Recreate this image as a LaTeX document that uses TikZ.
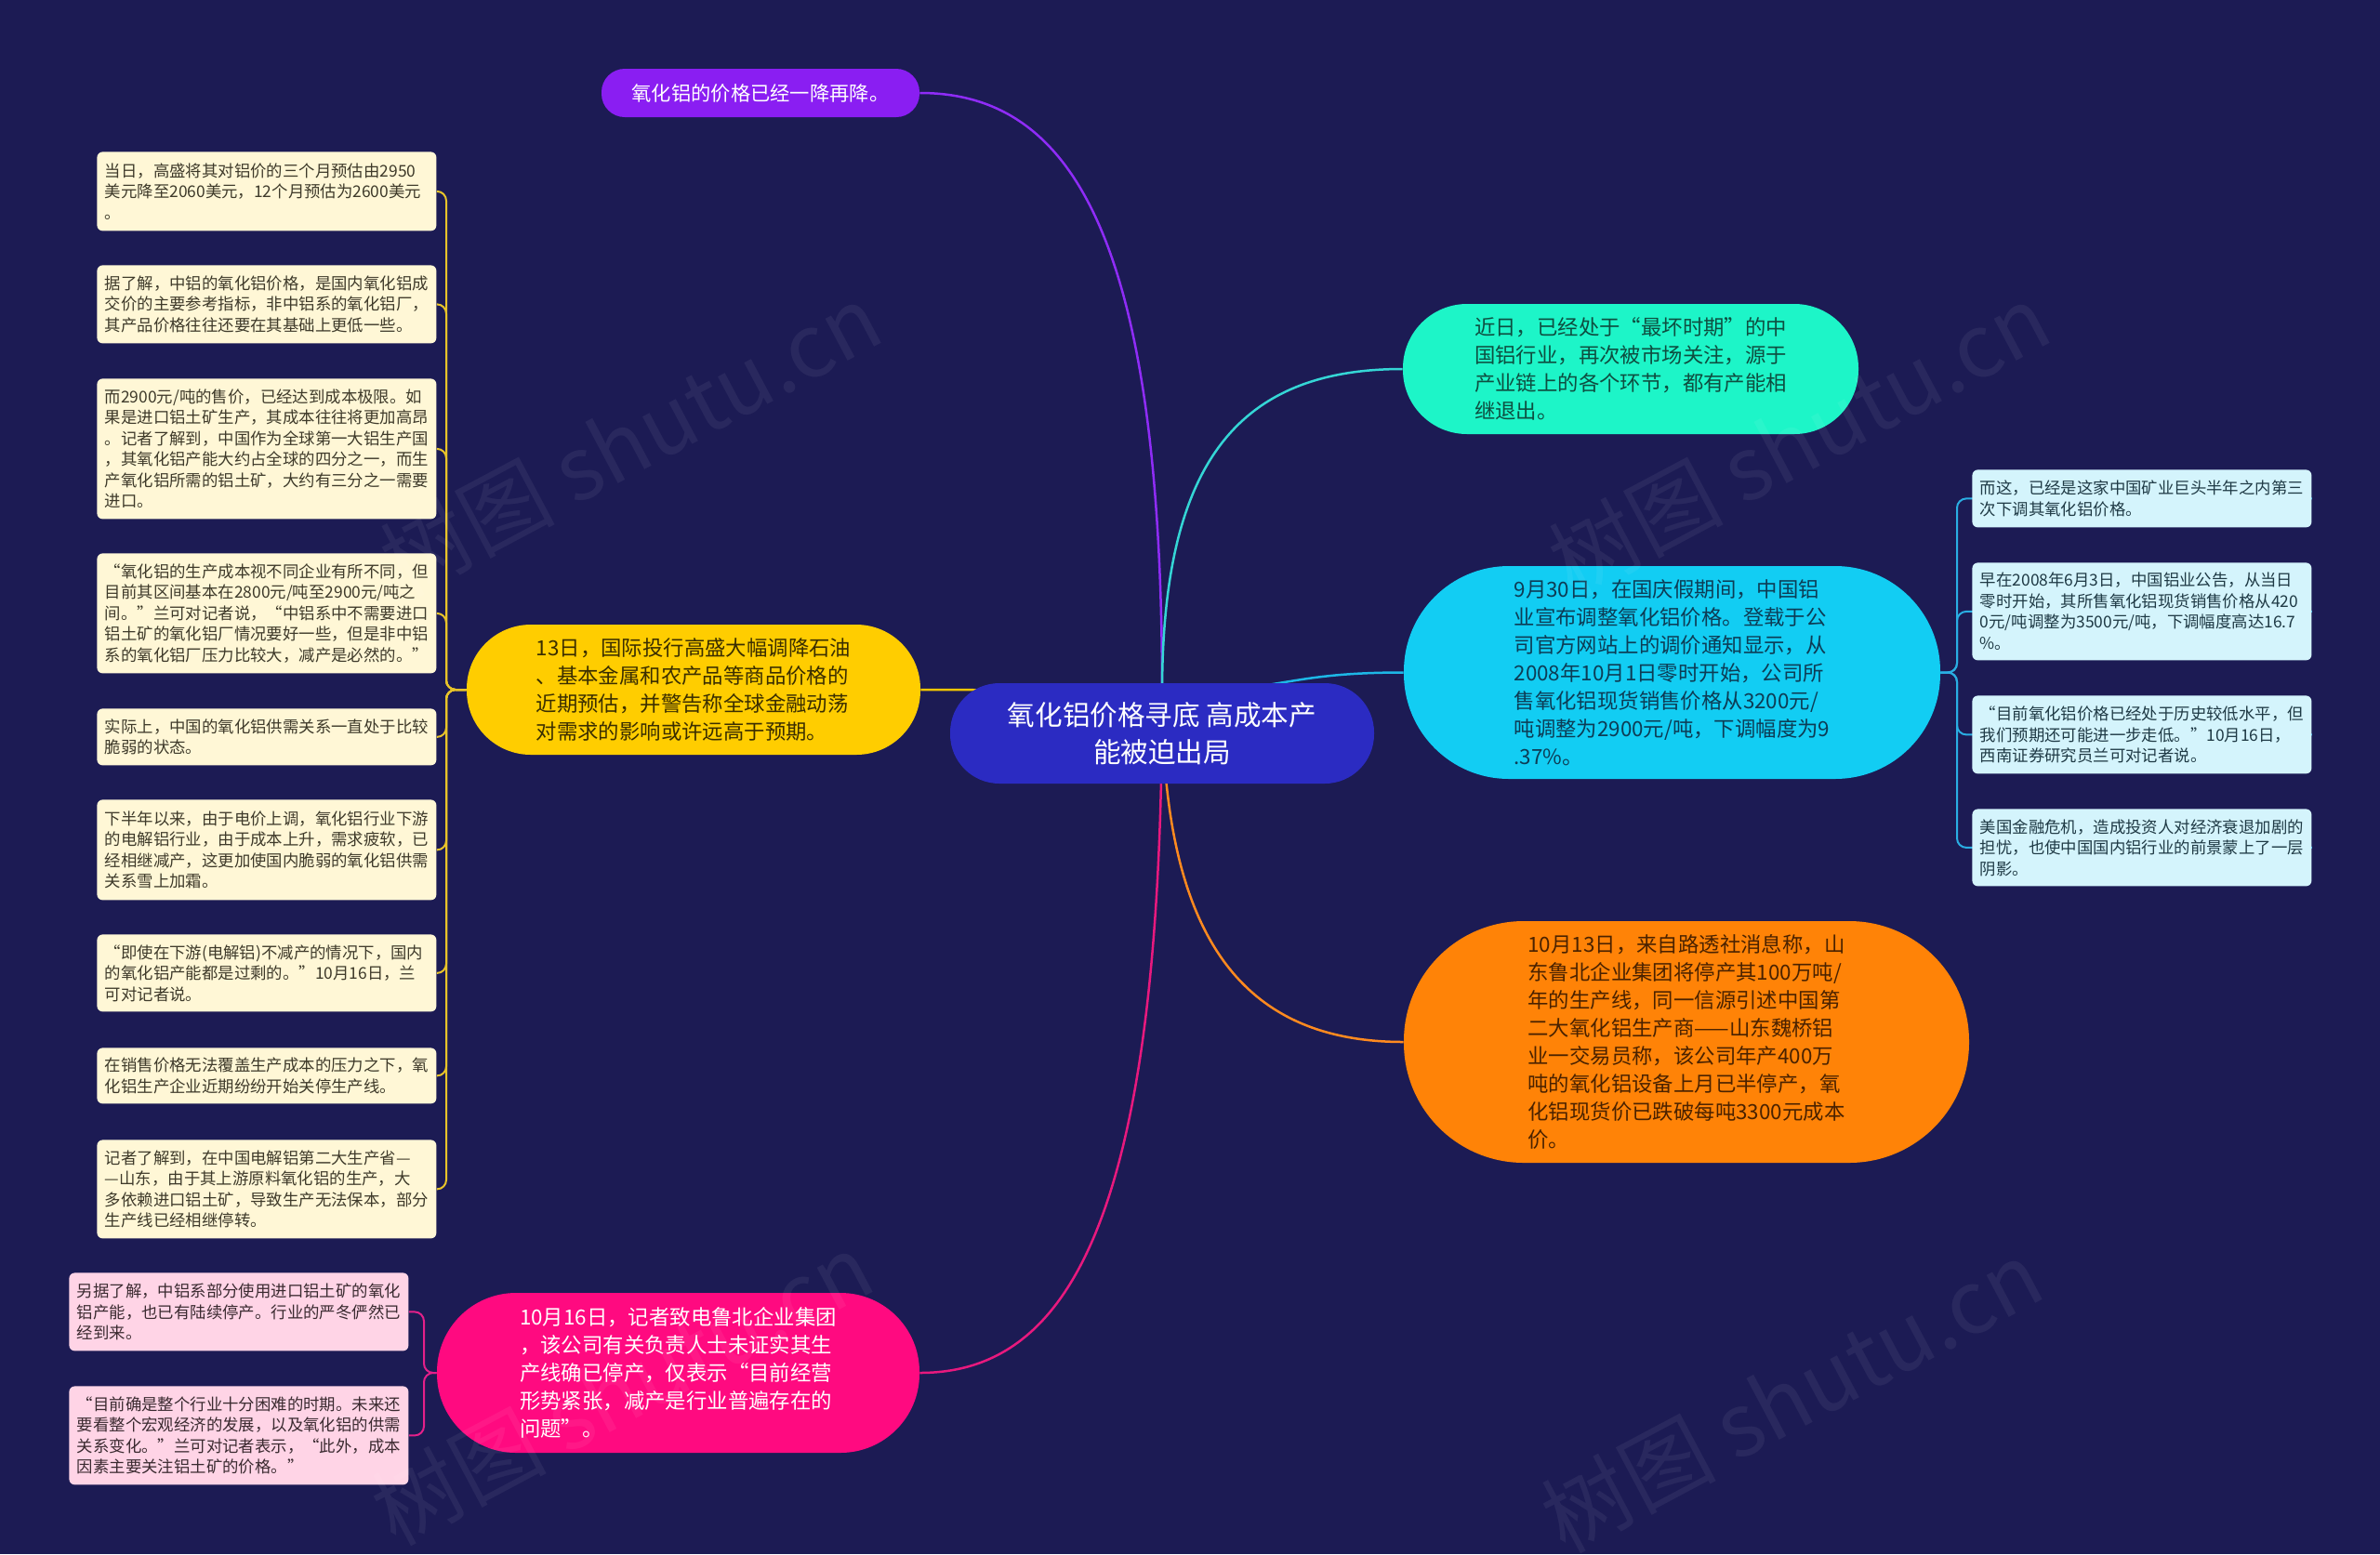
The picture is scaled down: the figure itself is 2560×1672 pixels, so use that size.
\documentclass[tikz,border=0pt]{standalone}
\usepackage{fontspec}
\setmainfont{Noto Sans CJK SC}
\definecolor{bgc}{HTML}{1C1B54}
\definecolor{rootc}{HTML}{2B2BC2}
\definecolor{purc}{HTML}{8A1EF2}
\definecolor{cyc}{HTML}{1DF5C8}
\definecolor{blc}{HTML}{12CDF3}
\definecolor{orc}{HTML}{FF8307}
\definecolor{yec}{HTML}{FFCD00}
\definecolor{pkc}{HTML}{FF0A80}
\definecolor{creamc}{HTML}{FFF7D6}
\definecolor{lcyc}{HTML}{D4F4FC}
\definecolor{lpkc}{HTML}{FFD4E6}
\definecolor{lpur}{HTML}{8F2CF7}
\definecolor{lcy}{HTML}{35D6D6}
\definecolor{lbl}{HTML}{1DB7E6}
\definecolor{lor}{HTML}{FF8A1F}
\definecolor{lpk}{HTML}{E8197E}
\definecolor{lye}{HTML}{F2C600}
\definecolor{bye}{HTML}{E8C42A}
\definecolor{bcy}{HTML}{2AAEE3}
\definecolor{bpk}{HTML}{E4208A}
\definecolor{tye}{HTML}{3A2E00}
\definecolor{tcy}{HTML}{0E4E40}
\definecolor{tbl}{HTML}{0D3C55}
\definecolor{tor}{HTML}{4A2200}
\definecolor{tcream}{HTML}{3E3A2A}
\definecolor{tlcy}{HTML}{1F3A45}
\definecolor{tlpk}{HTML}{3A2A30}
\pgfdeclarelayer{back}
\pgfdeclarelayer{edges}
\pgfsetlayers{back,edges,main}
\tikzset{
  sbox/.style={rectangle, rounded corners=3pt, anchor=north west, inner xsep=4.25pt, inner ysep=0pt,
    text width=174pt, align=left, font=\fontsize{8.7}{11.25}\selectfont},
  ybox/.style={sbox, fill=creamc, text=tcream},
  cbox/.style={sbox, fill=lcyc, text=tlcy},
  pbox/.style={sbox, fill=lpkc, text=tlpk},
  pill/.style={rectangle, inner sep=0pt, align=left, font=\fontsize{11.2}{15}\selectfont},
  edge/.style={line width=1.25pt},
  brk/.style={line width=1pt, rounded corners=5pt},
  wm/.style={rotate=28, text=white, opacity=0.06, font=\fontsize{47}{50}\selectfont}
}
\begin{document}
\begin{tikzpicture}[x=0.5pt,y=-0.5pt]
\useasboundingbox (0,0) rectangle (2560,1672);
\begin{pgfonlayer}{back}
\fill[bgc] (0,0) rectangle (2560,1672);
\end{pgfonlayer}

% main nodes
\node[pill, fill=rootc, text=white, minimum width=228pt, minimum height=54pt, rounded corners=26.5pt,
  align=center, font=\fontsize{14.8}{20}\selectfont] (root) at (1250,789) {氧化铝价格寻底 高成本产\\能被迫出局};
\node[pill, fill=purc, text=white, minimum width=171pt, minimum height=26pt, rounded corners=12.5pt,
  font=\fontsize{10.65}{13}\selectfont] (pu) at (818,100) {氧化铝的价格已经一降再降。};
\node[pill, fill=yec, text=tye, minimum width=244pt, minimum height=70pt, rounded corners=34.5pt] (ye) at (746,742)
 {13日，国际投行高盛大幅调降石油\\、基本金属和农产品等商品价格的\\近期预估，并警告称全球金融动荡\\对需求的影响或许远高于预期。};
\node[pill, fill=cyc, text=tcy, minimum width=245pt, minimum height=70pt, rounded corners=34.5pt] (cy) at (1754,397)
 {近日，已经处于“最坏时期”的中\\国铝行业，再次被市场关注，源于\\产业链上的各个环节，都有产能相\\继退出。};
\node[pill, fill=blc, text=tbl, minimum width=288.5pt, minimum height=114.5pt, rounded corners=56.5pt] (bl) at (1798.5,723.5)
 {9月30日，在国庆假期间，中国铝\\业宣布调整氧化铝价格。登载于公\\司官方网站上的调价通知显示，从\\2008年10月1日零时开始，公司所\\售氧化铝现货销售价格从3200元/\\吨调整为2900元/吨，下调幅度为9\\.37\%。};
\node[pill, fill=orc, text=tor, minimum width=304pt, minimum height=130pt, rounded corners=64.5pt] (or) at (1814,1121)
 {10月13日，来自路透社消息称，山\\东鲁北企业集团将停产其100万吨/\\年的生产线，同一信源引述中国第\\二大氧化铝生产商——山东魏桥铝\\业一交易员称，该公司年产400万\\吨的氧化铝设备上月已半停产，氧\\化铝现货价已跌破每吨3300元成本\\价。};
\node[pill, fill=pkc, text=white, minimum width=259.5pt, minimum height=86pt, rounded corners=42.5pt] (pk) at (729.5,1477)
 {10月16日，记者致电鲁北企业集团\\，该公司有关负责人士未证实其生\\产线确已停产，仅表示“目前经营\\形势紧张，减产是行业普遍存在的\\问题”。};

% left cream boxes
\node[ybox, minimum height=42.5pt] (B1) at (104,163) {当日，高盛将其对铝价的三个月预估由2950\\美元降至2060美元，12个月预估为2600美元\\。};
\node[ybox, minimum height=42pt] (B2) at (104,285) {据了解，中铝的氧化铝价格，是国内氧化铝成\\交价的主要参考指标，非中铝系的氧化铝厂，\\其产品价格往往还要在其基础上更低一些。};
\node[ybox, minimum height=75.5pt] (B3) at (104,407) {而2900元/吨的售价，已经达到成本极限。如\\果是进口铝土矿生产，其成本往往将更加高昂\\。记者了解到，中国作为全球第一大铝生产国\\，其氧化铝产能大约占全球的四分之一，而生\\产氧化铝所需的铝土矿，大约有三分之一需要\\进口。};
\node[ybox, minimum height=64.5pt] (B4) at (104,595) {“氧化铝的生产成本视不同企业有所不同，但\\目前其区间基本在2800元/吨至2900元/吨之\\间。”兰可对记者说，“中铝系中不需要进口\\铝土矿的氧化铝厂情况要好一些，但是非中铝\\系的氧化铝厂压力比较大，减产是必然的。”};
\node[ybox, minimum height=30.5pt] (B5) at (104,762) {实际上，中国的氧化铝供需关系一直处于比较\\脆弱的状态。};
\node[ybox, minimum height=54pt] (B6) at (104,860) {下半年以来，由于电价上调，氧化铝行业下游\\的电解铝行业，由于成本上升，需求疲软，已\\经相继减产，这更加使国内脆弱的氧化铝供需\\关系雪上加霜。};
\node[ybox, minimum height=41.5pt] (B7) at (104,1005) {“即使在下游(电解铝)不减产的情况下，国内\\的氧化铝产能都是过剩的。”10月16日，兰\\可对记者说。};
\node[ybox, minimum height=30pt] (B8) at (104,1127) {在销售价格无法覆盖生产成本的压力之下，氧\\化铝生产企业近期纷纷开始关停生产线。};
\node[ybox, minimum height=53pt] (B9) at (104,1226) {记者了解到，在中国电解铝第二大生产省—\\—山东，由于其上游原料氧化铝的生产，大\\多依赖进口铝土矿，导致生产无法保本，部分\\生产线已经相继停转。};

% right light cyan boxes
\node[cbox, minimum height=31pt] (R1) at (2121,505) {而这，已经是这家中国矿业巨头半年之内第三\\次下调其氧化铝价格。};
\node[cbox, minimum height=52.5pt] (R2) at (2121,605) {早在2008年6月3日，中国铝业公告，从当日\\零时开始，其所售氧化铝现货销售价格从420\\0元/吨调整为3500元/吨，下调幅度高达16.7\\\%。};
\node[cbox, minimum height=42pt] (R3) at (2121,748) {“目前氧化铝价格已经处于历史较低水平，但\\我们预期还可能进一步走低。”10月16日，\\西南证券研究员兰可对记者说。};
\node[cbox, minimum height=41.5pt] (R4) at (2121,870) {美国金融危机，造成投资人对经济衰退加剧的\\担忧，也使中国国内铝行业的前景蒙上了一层\\阴影。};

% left pink boxes
\node[pbox, minimum height=42pt] (P1) at (74,1369) {另据了解，中铝系部分使用进口铝土矿的氧化\\铝产能，也已有陆续停产。行业的严冬俨然已\\经到来。};
\node[pbox, minimum height=53pt] (P2) at (74,1491) {“目前确是整个行业十分困难的时期。未来还\\要看整个宏观经济的发展，以及氧化铝的供需\\关系变化。”兰可对记者表示，“此外，成本\\因素主要关注铝土矿的价格。”};

% connectors
\begin{pgfonlayer}{edges}
\coordinate (O) at (1250,745);
\draw[edge, lpur] (O) .. controls (1250,250) and (1150,100) .. (pu.east);
\draw[edge, lcy] (O) .. controls (1250,500) and (1330,397) .. (cy.west);
\draw[edge, lbl] (O) .. controls (1380,745) and (1380,723.5) .. (bl.west);
\draw[edge, lor] (O) .. controls (1250,1000) and (1330,1121) .. (or.west);
\draw[edge, lpk] (O) .. controls (1250,1310) and (1150,1477) .. (pk.east);
\draw[edge, lye] (O) .. controls (1120,745) and (1120,742) .. (ye.east);
\foreach \b in {B1,B2,B3,B4,B5,B6,B7,B8,B9}
  \draw[brk, bye] (ye.west) -- (480,742) |- (\b.east);
\foreach \b in {R1,R2,R3,R4}
  \draw[brk, bcy] (bl.east) -- (2105,723.5) |- (\b.east);
\foreach \b in {P1,P2}
  \draw[brk, bpk] (pk.west) -- (456,1477) |- (\b.east);
\end{pgfonlayer}

% watermarks
\node[wm] (w1) at (678,473) {树图 shutu.cn};
\node[wm] (w2) at (1935,473) {树图 shutu.cn};
\node[wm] (w3) at (669,1494) {树图 shutu.cn};
\node[wm] (w4) at (1927,1502) {树图 shutu.cn};
\end{tikzpicture}
\end{document}
